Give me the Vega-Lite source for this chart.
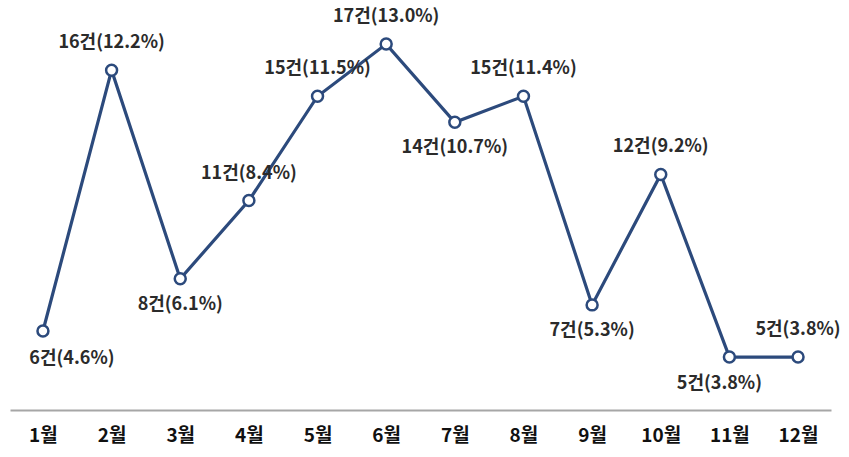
{
  "$schema": "https://vega.github.io/schema/vega-lite/v6.json",
  "autosize": "none",
  "width": 821,
  "height": 410,
  "padding": {"left": 10, "top": 0, "right": 18, "bottom": 47},
  "background": "white",
  "config": {"view": {"stroke": null}, "font": "Noto Sans CJK KR"},
  "data": {"values": [
    {"month": "1월", "count": 6, "pct": "4.6%"},
    {"month": "2월", "count": 16, "pct": "12.2%"},
    {"month": "3월", "count": 8, "pct": "6.1%"},
    {"month": "4월", "count": 11, "pct": "8.4%"},
    {"month": "5월", "count": 15, "pct": "11.5%"},
    {"month": "6월", "count": 17, "pct": "13.0%"},
    {"month": "7월", "count": 14, "pct": "10.7%"},
    {"month": "8월", "count": 15, "pct": "11.4%"},
    {"month": "9월", "count": 7, "pct": "5.3%"},
    {"month": "10월", "count": 12, "pct": "9.2%"},
    {"month": "11월", "count": 5, "pct": "3.8%"},
    {"month": "12월", "count": 5, "pct": "3.8%"}
  ]},
  "transform": [{"calculate": "datum.count + '건(' + datum.pct + ')'", "as": "label"}],
  "encoding": {
    "x": {"field": "month", "type": "ordinal", "sort": null,
      "scale": {"type": "point", "padding": 0.48},
      "axis": {"title": null, "labelAngle": 0, "ticks": false, "grid": false,
        "domainColor": "#a6a6a6", "domainWidth": 2, "labelFontSize": 19, "labelFontWeight": "bold",
        "labelColor": "#111111", "labelPadding": 16, "labelFont": "Noto Sans CJK KR"}},
    "y": {"field": "count", "type": "quantitative",
      "scale": {"domain": [2.97, 18.69], "nice": false, "zero": false},
      "axis": null}
  },
  "layer": [
    {"mark": {"type": "line", "color": "#2c4a7c", "strokeWidth": 3.2}},
    {"mark": {"type": "point", "filled": true, "fill": "white", "stroke": "#2c4a7c", "strokeWidth": 2.5, "size": 120, "opacity": 1}},
    {"transform": [{"filter": {"field": "month", "oneOf": ["2월", "4월", "5월", "6월", "8월", "10월", "12월"]}}],
      "mark": {"type": "text", "dy": -27, "fontSize": 18, "fontWeight": "bold", "color": "#2b2b2b"},
      "encoding": {"text": {"field": "label"}}},
    {"transform": [{"filter": {"field": "month", "oneOf": ["3월", "7월", "9월"]}}],
      "mark": {"type": "text", "dy": 26, "fontSize": 18, "fontWeight": "bold", "color": "#2b2b2b"},
      "encoding": {"text": {"field": "label"}}},
    {"transform": [{"filter": {"field": "month", "equal": "1월"}}],
      "mark": {"type": "text", "dy": 28, "dx": 29, "fontSize": 18, "fontWeight": "bold", "color": "#2b2b2b"},
      "encoding": {"text": {"field": "label"}}},
    {"transform": [{"filter": {"field": "month", "equal": "11월"}}],
      "mark": {"type": "text", "dy": 27, "dx": -10, "fontSize": 18, "fontWeight": "bold", "color": "#2b2b2b"},
      "encoding": {"text": {"field": "label"}}}
  ]
}
